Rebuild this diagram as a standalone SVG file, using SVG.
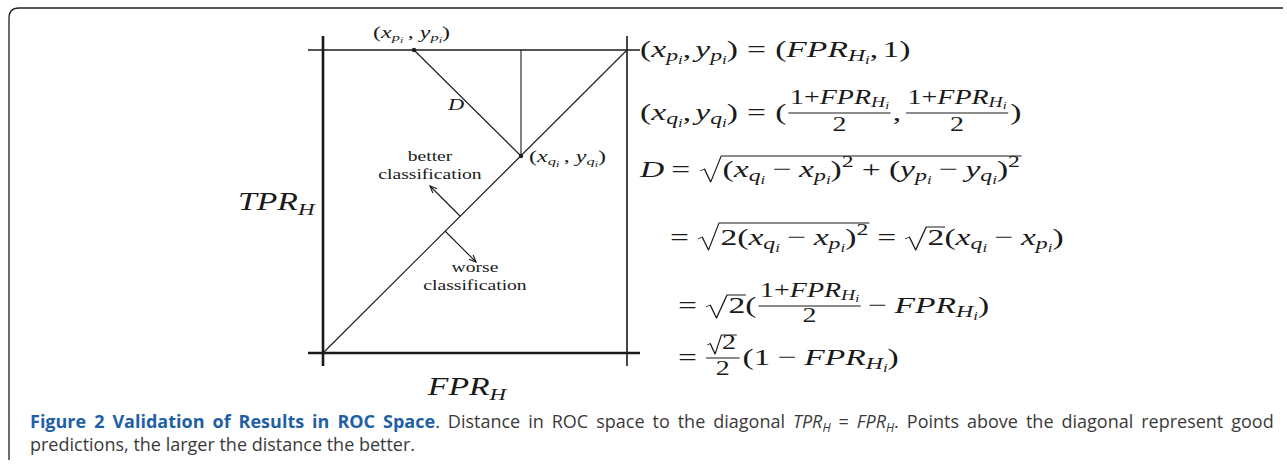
<svg xmlns="http://www.w3.org/2000/svg" width="1287" height="466" viewBox="0 0 1287 466">
<style>
.m{font-family:"Liberation Serif","Times New Roman",serif;font-size:24px;fill:#1a1a1a}
.i{font-style:italic}
.s1{font-size:17px}
.s2{font-size:12px}
.n1{font-size:20px}
.n2{font-size:14px}
.n3{font-size:10px}
.sm{font-size:16px}
.sm1{font-size:11px}
.sm2{font-size:8px}
.lbl{font-size:14px}
.ax{font-size:25px}
.ax1{font-size:17px}
.bar{stroke:#1a1a1a;stroke-width:0.9}
.rad{fill:none;stroke:#1a1a1a;stroke-width:0.9;stroke-linejoin:round}
.ln{stroke:#1a1a1a;fill:none}
.cap{font-family:"Open Sans","Noto Sans",sans-serif;font-size:18px;fill:#3a3a3a}
.capb{font-weight:bold;fill:#1f5fa5}
</style>
<defs>
<marker id="arr" viewBox="-8 -4 9 8" refX="0" refY="0" markerWidth="9" markerHeight="8" orient="auto" markerUnits="userSpaceOnUse"><path d="M-7,-3 L0,0 L-7,3" fill="none" stroke="#1a1a1a" stroke-width="1.1"/></marker>
</defs>
<rect width="1287" height="466" fill="#fff"/>
<g id="frame"><path d="M9,460 V18 Q9,8 19,8 H1283" fill="none" stroke="#222" stroke-width="1.3"/></g>

<g id="roc-plot">
<path class="ln" d="M308,50 H640" stroke-width="1.3"/>
<path class="ln" d="M323,36 V366" stroke-width="2.6"/>
<path class="ln" d="M627,36 V366" stroke-width="1.6"/>
<path class="ln" d="M308,353 H640" stroke-width="2.6"/>
<path class="ln" d="M323,353 L627,50" stroke-width="1.1"/>
<path class="ln" d="M521,50 V156" stroke-width="1.1"/>
<circle cx="414" cy="50" r="2.2" fill="#222"/>
<circle cx="521" cy="156" r="2.2" fill="#222"/>
</g>

<g id="connectors">
<path class="ln" d="M414,50 L521,156" stroke-width="1.1"/>
<path class="ln" d="M460,216 L430,186" stroke-width="1.1" marker-end="url(#arr)"/>
<path class="ln" d="M445,231 L476,262" stroke-width="1.1" marker-end="url(#arr)"/>
</g>

<g id="label-p" transform="translate(373,38) scale(1.5,1)"><text class="m sm">(<tspan class="i">x</tspan><tspan class="i sm1" dy="3">p</tspan><tspan class="i sm2" dy="2">i</tspan><tspan dy="-5" dx="3">,</tspan><tspan class="i" dx="4">y</tspan><tspan class="i sm1" dy="3">p</tspan><tspan class="i sm2" dy="2">i</tspan><tspan dy="-5">)</tspan></text></g>
<g id="label-q" transform="translate(529,162) scale(1.5,1)"><text class="m sm">(<tspan class="i">x</tspan><tspan class="i sm1" dy="3">q</tspan><tspan class="i sm2" dy="2">i</tspan><tspan dy="-5" dx="3">,</tspan><tspan class="i" dx="4">y</tspan><tspan class="i sm1" dy="3">q</tspan><tspan class="i sm2" dy="2">i</tspan><tspan dy="-5">)</tspan></text></g>
<g id="label-D" transform="translate(448,110) scale(1.4,1)"><text class="m sm i">D</text></g>
<g id="label-better" transform="translate(430,161) scale(1.4,1)"><text class="m lbl" text-anchor="middle">better</text><text class="m lbl" text-anchor="middle" y="18">classification</text></g>
<g id="label-worse" transform="translate(475,272) scale(1.4,1)"><text class="m lbl" text-anchor="middle">worse</text><text class="m lbl" text-anchor="middle" y="18">classification</text></g>
<g id="label-tpr" transform="translate(238,210) scale(1.35,1)"><text class="m ax"><tspan class="i">TPR</tspan><tspan class="i ax1" dy="5">H</tspan></text></g>
<g id="label-fpr" transform="translate(467,395) scale(1.35,1)"><text class="m ax" text-anchor="middle"><tspan class="i">FPR</tspan><tspan class="i ax1" dy="5">H</tspan></text></g>

<g id="eq1" transform="translate(640,57) scale(1.4,1)"><text class="m">(<tspan class="i">x</tspan><tspan class="i s1" dy="4">p</tspan><tspan class="i s2" dy="3">i</tspan><tspan dy="-7">,</tspan><tspan class="i" dx="3">y</tspan><tspan class="i s1" dy="4">p</tspan><tspan class="i s2" dy="3">i</tspan><tspan dy="-7">)</tspan><tspan dx="6.5">=</tspan><tspan dx="6.5">(</tspan><tspan class="i">FPR</tspan><tspan class="i s1" dy="4">H</tspan><tspan class="i s2" dy="3">i</tspan><tspan dy="-7">,</tspan><tspan dx="3">1)</tspan></text></g>

<g id="eq2" transform="translate(640,120) scale(1.4,1)">
<text class="m">(<tspan class="i">x</tspan><tspan class="i s1" dy="4">q</tspan><tspan class="i s2" dy="3">i</tspan><tspan dy="-7">,</tspan><tspan class="i" dx="3">y</tspan><tspan class="i s1" dy="4">q</tspan><tspan class="i s2" dy="3">i</tspan><tspan dy="-7">)</tspan><tspan dx="6.5">=</tspan><tspan dx="6.5">(</tspan></text>
<text class="m n1" x="142.5" y="-16" text-anchor="middle">1+<tspan class="i">FPR</tspan><tspan class="i n2" dy="3">H</tspan><tspan class="i n3" dy="2">i</tspan></text>
<line class="bar" x1="106" y1="-7" x2="179" y2="-7"/>
<text class="m n1" x="142.5" y="11" text-anchor="middle">2</text>
<text class="m" x="180.5" y="0">,</text>
<text class="m n1" x="226.5" y="-16" text-anchor="middle">1+<tspan class="i">FPR</tspan><tspan class="i n2" dy="3">H</tspan><tspan class="i n3" dy="2">i</tspan></text>
<line class="bar" x1="190" y1="-7" x2="263" y2="-7"/>
<text class="m n1" x="226.5" y="11" text-anchor="middle">2</text>
<text class="m" x="264.5" y="0">)</text>
</g>

<g id="eq3" transform="translate(640,177) scale(1.4,1)">
<text class="m"><tspan class="i">D</tspan><tspan dx="5">=</tspan></text>
<path class="rad" d="M43,-6 L46,-8 L50.5,5 L58,-21 H272.5"/>
<text class="m" x="59" y="0">(<tspan class="i">x</tspan><tspan class="i s1" dy="4">q</tspan><tspan class="i s2" dy="3">i</tspan><tspan dy="-7" dx="5.3">−</tspan><tspan class="i" dx="5.3">x</tspan><tspan class="i s1" dy="4">p</tspan><tspan class="i s2" dy="3">i</tspan><tspan dy="-7">)</tspan><tspan class="s1" dy="-10">2</tspan><tspan dy="10" dx="5.8">+</tspan><tspan dx="5.8">(</tspan><tspan class="i">y</tspan><tspan class="i s1" dy="4">p</tspan><tspan class="i s2" dy="3">i</tspan><tspan dy="-7" dx="5.3">−</tspan><tspan class="i" dx="5.3">y</tspan><tspan class="i s1" dy="4">q</tspan><tspan class="i s2" dy="3">i</tspan><tspan dy="-7">)</tspan><tspan class="s1" dy="-10">2</tspan></text>
</g>

<g id="eq4" transform="translate(670,245) scale(1.4,1)">
<text class="m">=</text>
<path class="rad" d="M20,-6 L23,-8 L27.5,5 L35,-22 H142.5"/>
<text class="m" x="36" y="0">2(<tspan class="i">x</tspan><tspan class="i s1" dy="4">q</tspan><tspan class="i s2" dy="3">i</tspan><tspan dy="-7" dx="5.3">−</tspan><tspan class="i" dx="5.3">x</tspan><tspan class="i s1" dy="4">p</tspan><tspan class="i s2" dy="3">i</tspan><tspan dy="-7">)</tspan><tspan class="s1" dy="-10">2</tspan></text>
<text class="m" x="148" y="0">=</text>
<path class="rad" d="M168,-6 L171,-8 L175.5,5 L183,-18 H196.5"/>
<text class="m" x="184" y="0">2(<tspan class="i">x</tspan><tspan class="i s1" dy="4">q</tspan><tspan class="i s2" dy="3">i</tspan><tspan dy="-7" dx="5.3">−</tspan><tspan class="i" dx="5.3">x</tspan><tspan class="i s1" dy="4">p</tspan><tspan class="i s2" dy="3">i</tspan><tspan dy="-7">)</tspan></text>
</g>

<g id="eq5" transform="translate(678,313) scale(1.4,1)">
<text class="m">=</text>
<path class="rad" d="M20,-6 L23,-8 L27.5,5 L35,-18 H48.5"/>
<text class="m" x="36" y="0">2(</text>
<text class="m n1" x="94" y="-16" text-anchor="middle">1+<tspan class="i">FPR</tspan><tspan class="i n2" dy="3">H</tspan><tspan class="i n3" dy="2">i</tspan></text>
<line class="bar" x1="57.5" y1="-7" x2="130.5" y2="-7"/>
<text class="m n1" x="94" y="9" text-anchor="middle">2</text>
<text class="m" x="135.8" y="0">−<tspan class="i" dx="5.3">FPR</tspan><tspan class="i s1" dy="4">H</tspan><tspan class="i s2" dy="3">i</tspan><tspan dy="-7">)</tspan></text>
</g>

<g id="eq6" transform="translate(678,365) scale(1.4,1)">
<text class="m">=</text>
<path class="rad" d="M21,-20 L23,-21.5 L26.5,-11 L31,-30 H42"/>
<text class="m n1" x="31.5" y="-16">2</text>
<line class="bar" x1="20" y1="-7" x2="44" y2="-7"/>
<text class="m n1" x="32" y="10" text-anchor="middle">2</text>
<text class="m" x="46" y="0">(1<tspan dx="5.3">−</tspan><tspan class="i" dx="5.3">FPR</tspan><tspan class="i s1" dy="4">H</tspan><tspan class="i s2" dy="3">i</tspan><tspan dy="-7">)</tspan></text>
</g>

<g id="caption">
<text class="cap" x="30" y="428" word-spacing="3.3"><tspan class="capb">Figure 2 Validation of Results in ROC Space</tspan>. Distance in ROC space to the diagonal <tspan font-style="italic">TPR</tspan><tspan font-style="italic" font-size="12" dy="4">H</tspan><tspan dy="-4"> = </tspan><tspan font-style="italic">FPR</tspan><tspan font-style="italic" font-size="12" dy="4">H</tspan><tspan dy="-4">. Points above the diagonal represent good</tspan></text>
<text class="cap" x="30" y="451">predictions, the larger the distance the better.</text>
</g>
</svg>
